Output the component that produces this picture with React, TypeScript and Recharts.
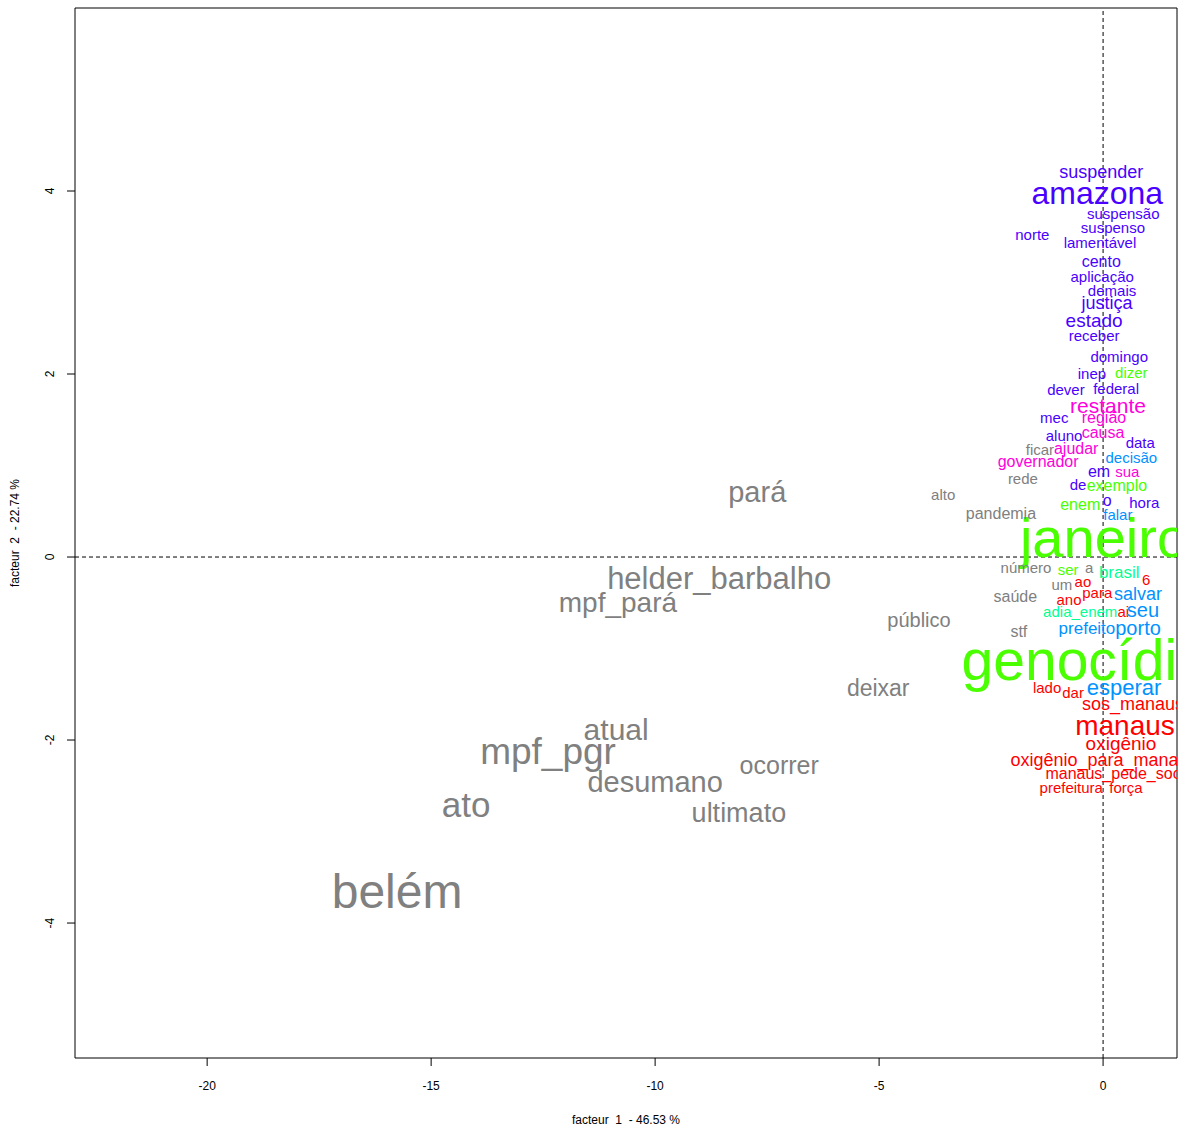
import React from 'react';
import {
  ScatterChart,
  Scatter,
  XAxis,
  YAxis,
  ReferenceLine,
  ReferenceArea,
} from 'recharts';

// words of the correspondence analysis, their coordinates on factors 1 and 2,
// the chi2 weight (drives label size) and the class (drives colour, 0 = illustrative)
const words = [
  'suspender', 'amazona', 'suspensão', 'suspenso', 'norte', 'lamentável', 'cento', 'aplicação',
  'demais', 'justiça', 'estado', 'receber', 'domingo', 'inep', 'dever', 'federal', 'mec', 'aluno',
  'data', 'em', 'de', 'o', 'hora',
  'dizer', 'exemplo', 'enem', 'janeiro', 'genocídio', 'ser',
  'restante', 'região', 'causa', 'ajudar', 'governador', 'sua',
  'ficar', 'rede', 'alto', 'pandemia', 'pará', 'helder_barbalho', 'mpf_pará', 'público', 'deixar',
  'atual', 'mpf_pgr', 'desumano', 'ocorrer', 'ato', 'ultimato', 'belém', 'número', 'a', 'um',
  'saúde', 'stf',
  '6', 'ao', 'para', 'ano', 'ai', 'lado', 'dar', 'sos_manaus', 'manaus', 'oxigênio',
  'oxigênio_para_manaus', 'manaus_pede_socorro', 'prefeitura', 'força',
  'decisão', 'falar', 'salvar', 'seu', 'prefeito', 'porto', 'esperar',
  'brasil', 'adia_enem',
];

const factor1 = [
  -0.04, -0.13, 0.45, 0.22, -1.58, -0.07, -0.04, -0.02,
  0.2, 0.09, -0.2, -0.2, 0.36, -0.25, -0.83, 0.29, -1.09, -0.87,
  0.83, -0.09, -0.56, 0.09, 0.92,
  0.63, 0.31, -0.51, 0.02, -0.4, -0.78,
  0.11, 0.02, 0.0, -0.6, -1.45, 0.54,
  -1.41, -1.79, -3.57, -2.28, -7.72, -8.57, -10.83, -4.11, -5.02,
  -10.87, -12.39, -10.0, -7.23, -14.22, -8.13, -15.76, -1.72, -0.31, -0.92,
  -1.96, -1.88,
  0.96, -0.45, -0.13, -0.76, 0.45, -1.25, -0.67, 0.67, 0.49, 0.4,
  0.02, 0.54, -0.71, 0.51,
  0.63, 0.33, 0.78, 0.89, -0.36, 0.78, 0.47,
  0.36, -0.51,
];

const factor2 = [
  4.21, 3.98, 3.75, 3.6, 3.53, 3.44, 3.23, 3.07,
  2.91, 2.78, 2.59, 2.42, 2.19, 2.01, 1.83, 1.84, 1.53, 1.33,
  1.25, 0.94, 0.79, 0.62, 0.6,
  2.02, 0.78, 0.57, 0.21, -1.13, -0.14,
  1.66, 1.52, 1.36, 1.19, 1.04, 0.94,
  1.17, 0.86, 0.68, 0.48, 0.71, -0.24, -0.5, -0.69, -1.43,
  -1.88, -2.13, -2.46, -2.27, -2.7, -2.8, -3.65, -0.11, -0.11, -0.3,
  -0.43, -0.81,
  -0.25, -0.27, -0.39, -0.46, -0.59, -1.43, -1.48, -1.61, -1.84, -2.04,
  -2.22, -2.37, -2.52, -2.52,
  1.09, 0.46, -0.4, -0.58, -0.78, -0.78, -1.43,
  -0.17, -0.59,
];

const chi2 = [
  18, 32, 15, 15, 15, 15, 16, 15,
  15, 18, 19, 15, 15, 15, 15, 15, 15, 15,
  15, 16, 15, 16, 15,
  15, 16, 16, 56, 57, 15,
  21, 16, 16, 16, 16, 15,
  15, 15, 15, 16, 29, 31, 28, 20, 23,
  30, 37, 29, 25, 35, 27, 48, 15, 15, 15,
  16, 16,
  15, 15, 15, 15, 15, 15, 15, 18, 28, 19,
  18, 16, 15, 15,
  15, 15, 18, 20, 17, 20, 22,
  17, 15,
];

const wordClass = [
  6, 6, 6, 6, 6, 6, 6, 6,
  6, 6, 6, 6, 6, 6, 6, 6, 6, 6,
  6, 6, 6, 6, 6,
  3, 3, 3, 3, 3, 3,
  7, 7, 7, 7, 7, 7,
  0, 0, 0, 0, 0, 0, 0, 0, 0,
  0, 0, 0, 0, 0, 0, 0, 0, 0, 0,
  0, 0,
  1, 1, 1, 1, 1, 1, 1, 1, 1, 1,
  1, 1, 1, 1,
  5, 5, 5, 5, 5, 5, 5,
  4, 4,
];

const xTicks = [-20, -15, -10, -5, 0];
const yTicks = [-4, -2, 0, 2, 4];

const classColors: Record<number, string> = {
  0: '#808080',
  1: '#FF0000',
  2: '#FFDB00',
  3: '#49FF00',
  4: '#00FF92',
  5: '#0092FF',
  6: '#4900FF',
  7: '#FF00DB',
};

const FONT = '"Liberation Sans", Arial, Helvetica, sans-serif';

const data = words.map((w, i) => ({
  word: w,
  x: factor1[i],
  y: factor2[i],
  size: chi2[i],
  cls: wordClass[i],
}));

const WordLabel = (props: any) => {
  const { cx, cy, payload } = props;
  if (cx == null || cy == null) return null;
  return (
    <text
      x={cx}
      y={cy}
      textAnchor="middle"
      dominantBaseline="central"
      fontFamily={FONT}
      fontSize={payload.size}
      fill={classColors[payload.cls]}
    >
      {payload.word}
    </text>
  );
};

const YTick = (props: any) => {
  const { x, y, payload } = props;
  const tx = x - 11;
  return (
    <text
      x={tx}
      y={y}
      transform={`rotate(-90 ${tx} ${y})`}
      textAnchor="middle"
      fontFamily={FONT}
      fontSize={12}
      fill="#000"
    >
      {payload.value}
    </text>
  );
};

const XTick = (props: any) => {
  const { x, y, payload } = props;
  return (
    <text x={x} y={y + 22} textAnchor="middle" fontFamily={FONT} fontSize={12} fill="#000">
      {payload.value}
    </text>
  );
};

export default function App() {
  return (
    <div style={{ position: 'absolute', left: 0, top: 0, width: 1180, height: 1128, background: '#fff' }}>
      <ScatterChart width={1180} height={1128} margin={{ top: 8, right: 3, bottom: 0, left: 0 }}>
        <XAxis
          type="number"
          dataKey="x"
          domain={[-22.95, 1.65]}
          ticks={xTicks}
          allowDataOverflow
          tickSize={8}
          tick={<XTick />}
          axisLine={false}
          tickLine={{ stroke: '#000' }}
          height={70}
        />
        <YAxis
          type="number"
          dataKey="y"
          domain={[-5.475, 6.0]}
          ticks={yTicks}
          allowDataOverflow
          tickSize={8}
          tick={<YTick />}
          axisLine={false}
          tickLine={{ stroke: '#000' }}
          width={75}
        />
        <ReferenceArea
          x1={-22.95}
          x2={1.65}
          y1={-5.475}
          y2={6.0}
          fill="none"
          stroke="#000"
          strokeWidth={1}
          ifOverflow="visible"
        />
        <ReferenceLine x={0} stroke="#000" strokeDasharray="4 3" />
        <ReferenceLine y={0} stroke="#000" strokeDasharray="4 3" />
        <Scatter data={data} shape={<WordLabel />} isAnimationActive={false} />
        <text
          x={626}
          y={1124}
          textAnchor="middle"
          fontFamily={FONT}
          fontSize={12}
          fill="#000"
          style={{ whiteSpace: 'pre' }}
        >
          {'facteur  1  - 46.53 %'}
        </text>
        <text
          x={19}
          y={533}
          transform="rotate(-90 19 533)"
          textAnchor="middle"
          fontFamily={FONT}
          fontSize={12}
          fill="#000"
          style={{ whiteSpace: 'pre' }}
        >
          {'facteur  2  - 22.74 %'}
        </text>
      </ScatterChart>
    </div>
  );
}
